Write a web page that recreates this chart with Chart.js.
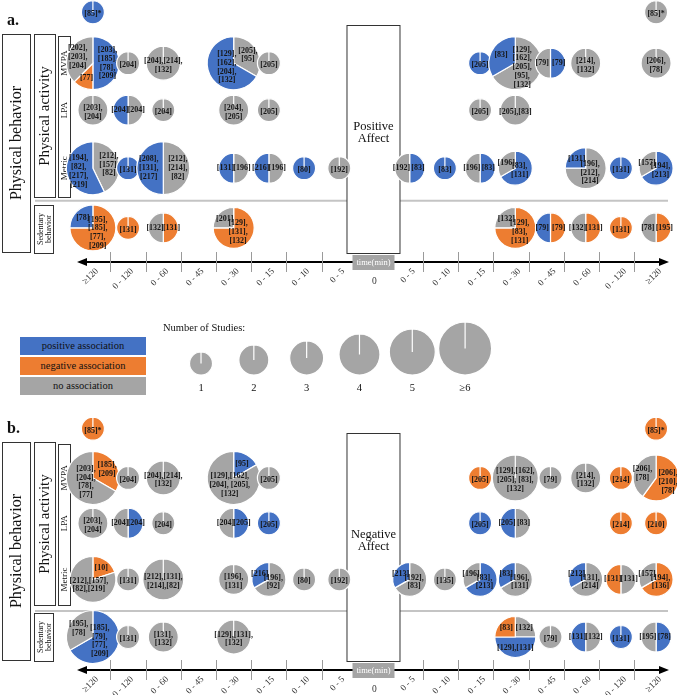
<!DOCTYPE html>
<html>
<head>
<meta charset="utf-8">
<script src="https://cdn.jsdelivr.net/npm/chart.js@4.4.1/dist/chart.umd.min.js"></script>
<style>
  body { margin: 0; background: #fff; font-family: 'Liberation Serif', serif; }
  #page { position: relative; width: 677px; height: 695px; overflow: hidden; }
  canvas { position: absolute; left: 0; }
  .assoc { position: absolute; left: 20px; width: 126px; height: 18px; line-height: 18px;
           text-align: center; font-size: 10.5px; color: #111; }
</style>
</head>
<body>
<div id="page">
  <canvas id="panelA" width="677" height="295" style="top:0"></canvas>
  <canvas id="sizeKey" width="360" height="82" style="top:318px;left:150px"></canvas>
  <canvas id="panelB" width="677" height="295" style="top:408px"></canvas>
  <div class="assoc" style="top:337px;background:#4472C4">positive association</div>
  <div class="assoc" style="top:357px;background:#ED7D31">negative association</div>
  <div class="assoc" style="top:377px;background:#A5A5A5">no association</div>
  <div style="position:absolute;left:163px;top:322px;font-size:10.5px;color:#111">Number of Studies:</div>
</div>
<script>
// time columns, -8 .. 8 (0 = the affect measurement)
const timeLabels = ['≥120', '0 - 120', '0 - 60', '0 - 45', '0 - 30', '0 - 15', '0 - 10', '0 - 5', '0',
                    '0 - 5', '0 - 10', '0 - 15', '0 - 30', '0 - 45', '0 - 60', '0 - 120', '≥120'];
const sizeLegend = ['1', '2', '3', '4', '5', '≥6'];

// pie: [time column, number of studies, slices clockwise from 12 o'clock]
// slice: [association, share, references]
const posTop = [
  [-8, 1, [['pos', 1, '[85]*']]],
  [8, 1, [['none', 1, '[85]*']]]
];
const posMVPA = [
  [-8, 8, [['pos', 4, '[203],\n[185],\n[78],\n[209]'], ['neg', 1, '[77]'], ['none', 3, '[202],\n[203],\n[204]']]],
  [-7, 1, [['none', 1, '[204]']]],
  [-6, 3, [['none', 1, '[204],[214],\n[132]']]],
  [-4, 6, [['none', 2, '[205],\n[95]'], ['pos', 4, '[129],\n[162],\n[204],\n[132]']]],
  [-3, 1, [['none', 1, '[205]']]],
  [3, 1, [['pos', 1, '[205]']]],
  [4, 6, [['none', 4, '[129],\n[162],\n[205],\n[95],\n[132]'], ['pos', 2, '[83]']]],
  [5, 2, [['pos', 1, '[79]'], ['none', 1, '[79]']]],
  [6, 2, [['none', 1, '[214],\n[132]']]],
  [8, 2, [['none', 1, '[206],\n[78]']]]
];
const posLPA = [
  [-8, 2, [['none', 1, '[203],\n[204]']]],
  [-7, 2, [['none', 1, '[204]'], ['pos', 1, '[204]']]],
  [-6, 1, [['none', 1, '[204]']]],
  [-4, 2, [['none', 1, '[204],\n[205]']]],
  [-3, 1, [['none', 1, '[205]']]],
  [3, 1, [['none', 1, '[205]']]],
  [4, 2, [['none', 1, '[205],[83]']]]
];
const posMetric = [
  [-8, 7, [['none', 3, '[212],\n[157],\n[82]'], ['pos', 4, '[194],\n[82],\n[217],\n[219]']]],
  [-7, 1, [['pos', 1, '[131]']]],
  [-6, 6, [['none', 3, '[212],\n[214],\n[82]'], ['pos', 3, '[208],\n[131],\n[217]']]],
  [-4, 2, [['none', 1, '[196]'], ['pos', 1, '[131]']]],
  [-3, 2, [['none', 1, '[196]'], ['pos', 1, '[216]']]],
  [-2, 1, [['pos', 1, '[80]']]],
  [-1, 1, [['none', 1, '[192]']]],
  [1, 2, [['pos', 1, '[83]'], ['none', 1, '[192]']]],
  [2, 1, [['pos', 1, '[83]']]],
  [3, 2, [['pos', 1, '[83]'], ['none', 1, '[196]']]],
  [4, 3, [['pos', 2, '[83],\n[131]'], ['none', 1, '[196]']]],
  [6, 4, [['none', 3, '[196],\n[212],\n[214]'], ['pos', 1, '[131]']]],
  [7, 1, [['pos', 1, '[131]']]],
  [8, 3, [['pos', 2, '[194],\n[213]'], ['none', 1, '[157]']]]
];
const posSedentary = [
  [-8, 5, [['neg', 3, '[195],\n[185],\n[77],\n[209]'], ['pos', 1, '[78]']]],
  [-7, 1, [['neg', 1, '[131]']]],
  [-6, 2, [['neg', 1, '[131]'], ['none', 1, '[132]']]],
  [-4, 4, [['neg', 3, '[129],\n[131],\n[132]'], ['none', 1, '[201]']]],
  [4, 4, [['neg', 3, '[129],\n[83],\n[131]'], ['none', 1, '[132]']]],
  [5, 2, [['neg', 1, '[79]'], ['pos', 1, '[79]']]],
  [6, 2, [['neg', 1, '[131]'], ['none', 1, '[132]']]],
  [7, 1, [['neg', 1, '[131]']]],
  [8, 2, [['neg', 1, '[195]'], ['none', 1, '[78]']]]
];

const negTop = [
  [-8, 1, [['neg', 1, '[85]*']]],
  [8, 1, [['neg', 1, '[85]*']]]
];
const negMVPA = [
  [-8, 6, [['neg', 2, '[185],\n[209]'], ['none', 4, '[203],\n[204],\n[78],\n[77]']]],
  [-7, 1, [['none', 1, '[204]']]],
  [-6, 3, [['none', 1, '[204],[214],\n[132]']]],
  [-4, 6, [['pos', 1, '[95]'], ['none', 5, '[129],[162],\n[204], [205],\n[132]']]],
  [-3, 1, [['none', 1, '[205]']]],
  [3, 1, [['neg', 1, '[205]']]],
  [4, 5, [['none', 1, '[129],[162],\n[205], [83],\n[132]']]],
  [5, 1, [['none', 1, '[79]']]],
  [6, 2, [['none', 1, '[214],\n[132]']]],
  [7, 1, [['neg', 1, '[214]']]],
  [8, 5, [['neg', 3, '[206],\n[210],\n[78]'], ['none', 2, '[206],\n[78]']]]
];
const negLPA = [
  [-8, 2, [['none', 1, '[203],\n[204]']]],
  [-7, 2, [['pos', 1, '[204]'], ['none', 1, '[204]']]],
  [-6, 1, [['none', 1, '[204]']]],
  [-4, 2, [['pos', 1, '[205]'], ['none', 1, '[204]']]],
  [-3, 1, [['pos', 1, '[205]']]],
  [3, 1, [['pos', 1, '[205]']]],
  [4, 2, [['none', 1, '[83]'], ['pos', 1, '[205]']]],
  [7, 1, [['neg', 1, '[214]']]],
  [8, 1, [['neg', 1, '[210]']]]
];
const negMetric = [
  [-8, 5, [['neg', 1, '[10]'], ['none', 4, '[212],[157],\n[82],[219]']]],
  [-7, 1, [['none', 1, '[131]']]],
  [-6, 4, [['none', 1, '[212],[131],\n[214],[82]']]],
  [-4, 2, [['none', 1, '[196],\n[131]']]],
  [-3, 3, [['none', 2, '[196],\n[92]'], ['pos', 1, '[216]']]],
  [-2, 1, [['none', 1, '[80]']]],
  [-1, 1, [['none', 1, '[192]']]],
  [1, 3, [['none', 2, '[192],\n[83]'], ['pos', 1, '[213]']]],
  [2, 1, [['none', 1, '[135]']]],
  [3, 3, [['pos', 2, '[83],\n[213]'], ['none', 1, '[196]']]],
  [4, 3, [['none', 2, '[196],\n[131]'], ['pos', 1, '[83]']]],
  [6, 3, [['none', 2, '[131],\n[214]'], ['pos', 1, '[212]']]],
  [7, 2, [['none', 1, '[131]'], ['neg', 1, '[131]']]],
  [8, 3, [['neg', 2, '[194],\n[136]'], ['none', 1, '[157]']]]
];
const negSedentary = [
  [-8, 6, [['pos', 4, '[185],\n[79],\n[77],\n[209]'], ['none', 2, '[195],\n[78]']]],
  [-7, 1, [['none', 1, '[131]']]],
  [-6, 2, [['none', 1, '[131],\n[132]']]],
  [-4, 3, [['none', 1, '[129],[131],\n[132]']]],
  [4, 4, [['none', 1, '[132]'], ['pos', 2, '[129],[131]'], ['neg', 1, '[83]']]],
  [5, 1, [['none', 1, '[79]']]],
  [6, 2, [['none', 1, '[132]'], ['pos', 1, '[131]']]],
  [7, 1, [['pos', 1, '[131]']]],
  [8, 2, [['pos', 1, '[78]'], ['none', 1, '[195]']]]
];

// layout
const colours = { pos: '#4472C4', neg: '#ED7D31', none: '#A5A5A5' };
const sizeRadius = [0, 11.5, 15, 17, 20.5, 23, 26.5];
const rowY = { top: 0, MVPA: 1, LPA: 1.92, Metric: 3.06, Sedentary: 4.23 };
const serif = '"Liberation Serif", serif';

function labelDist(frac) {
  if (frac > 0.99) return 0;
  if (frac > 0.6) return 0.3;
  if (frac >= 0.45) return 0.55;
  return 0.62;
}

function drawPie(ctx, cx, cy, r, slices, withText) {
  const total = slices.reduce((s, d) => s + d[1], 0);
  let a = -Math.PI / 2;
  const spans = [];
  ctx.save();
  ctx.strokeStyle = '#fff';
  ctx.lineWidth = 1.2;
  slices.forEach(d => {
    const a1 = a + d[1] / total * Math.PI * 2;
    ctx.beginPath();
    ctx.moveTo(cx, cy);
    ctx.arc(cx, cy, r, a, a1);
    ctx.closePath();
    ctx.fillStyle = colours[d[0]];
    ctx.fill();
    ctx.stroke();
    spans.push([a, a1, d[1] / total]);
    a = a1;
  });
  if (withText) {
    ctx.fillStyle = '#161616';
    ctx.font = 'bold 8px ' + serif;
    ctx.textAlign = 'center';
    ctx.textBaseline = 'middle';
    slices.forEach((d, i) => {
      const [a0, a1, frac] = spans[i];
      const mid = (a0 + a1) / 2;
      const dist = labelDist(frac) * r;
      const lx = cx + Math.cos(mid) * dist;
      const ly = cy + Math.sin(mid) * dist + (frac > 0.99 ? 2 : 0);
      const lines = d[2].split('\n');
      const lh = 8.8;
      lines.forEach((t, j) => ctx.fillText(t, lx, ly + (j - (lines.length - 1) / 2) * lh));
    });
  }
  ctx.restore();
}

const piePlugin = {
  id: 'pies',
  afterDatasetsDraw(chart) {
    const meta = chart.getDatasetMeta(0);
    const data = chart.data.datasets[0].data;
    meta.data.forEach((el, i) => drawPie(chart.ctx, el.x, el.y, data[i].r, data[i].slices, true));
  }
};

function rotText(ctx, text, x, y, size) {
  ctx.save();
  ctx.translate(x, y);
  ctx.rotate(-Math.PI / 2);
  ctx.font = size + 'px ' + serif;
  ctx.textAlign = 'center';
  ctx.textBaseline = 'middle';
  ctx.fillText(text, 0, 0);
  ctx.restore();
}

const framePlugin = {
  id: 'frame',
  beforeDatasetsDraw(chart, args, opts) {
    const { ctx, chartArea, scales } = chart;
    const xs = scales.x, ys = scales.y;
    const axisY = chartArea.bottom;
    ctx.save();
    ctx.fillStyle = '#111';
    ctx.font = 'bold 16px ' + serif;
    ctx.textAlign = 'left';
    ctx.textBaseline = 'alphabetic';
    ctx.fillText(opts.tag, 7, 25);

    // separator between physical activity and sedentary rows
    const sepY = ys.getPixelForValue(3.7);
    ctx.strokeStyle = '#C4C4C4';
    ctx.lineWidth = 2;
    ctx.beginPath();
    ctx.moveTo(35, sepY);
    ctx.lineTo(668, sepY);
    ctx.stroke();

    // category boxes on the left
    ctx.strokeStyle = '#333';
    ctx.lineWidth = 1;
    ctx.fillStyle = '#fff';
    [[2.5, 34.5, 28, 218], [34.5, 34.5, 21, 163], [58.5, 36.5, 12, 161], [34.5, 205.5, 19, 48]].forEach(b => {
      ctx.fillRect(b[0], b[1], b[2], b[3]);
      ctx.strokeRect(b[0], b[1], b[2], b[3]);
    });
    ctx.fillStyle = '#111';
    rotText(ctx, 'Physical behavior', 16.5, 143, 16);
    rotText(ctx, 'Physical activity', 45, 116, 15);
    rotText(ctx, 'MVPA', 64.5, ys.getPixelForValue(rowY.MVPA), 9);
    rotText(ctx, 'LPA', 64.5, ys.getPixelForValue(rowY.LPA), 9);
    rotText(ctx, 'Metric', 64.5, ys.getPixelForValue(rowY.Metric), 9);
    rotText(ctx, 'Sedentary', 40.5, 229, 8);
    rotText(ctx, 'behavior', 48.5, 229, 8);

    // affect box
    const bx = xs.getPixelForValue(0) - 1;
    ctx.fillStyle = '#fff';
    ctx.fillRect(bx - 26.5, 25.5, 53, 228);
    ctx.strokeRect(bx - 26.5, 25.5, 53, 228);
    ctx.fillStyle = '#111';
    ctx.font = '12.5px ' + serif;
    ctx.textAlign = 'center';
    ctx.textBaseline = 'middle';
    ctx.fillText(opts.affect[0], bx, 127);
    ctx.fillText(opts.affect[1], bx, 139);

    // time axis with arrows
    ctx.strokeStyle = '#000';
    ctx.fillStyle = '#000';
    ctx.lineWidth = 2;
    ctx.beginPath();
    ctx.moveTo(84, axisY);
    ctx.lineTo(662, axisY);
    ctx.stroke();
    ctx.beginPath();
    ctx.moveTo(77, axisY); ctx.lineTo(87, axisY - 4); ctx.lineTo(87, axisY + 4); ctx.closePath();
    ctx.fill();
    ctx.beginPath();
    ctx.moveTo(669, axisY); ctx.lineTo(659, axisY - 4); ctx.lineTo(659, axisY + 4); ctx.closePath();
    ctx.fill();
    ctx.strokeStyle = '#9A9A9A';
    ctx.lineWidth = 1;
    for (let k = 1.5; k <= 7.5; k++) {
      [-k, k - 0.12].forEach(v => {
        const px = Math.round(xs.getPixelForValue(v)) + 0.5;
        ctx.beginPath();
        ctx.moveTo(px, axisY - 10);
        ctx.lineTo(px, axisY + 10);
        ctx.stroke();
      });
    }
    ctx.fillStyle = '#A5A5A5';
    ctx.fillRect(bx - 21, axisY - 7, 42, 15);
    ctx.fillStyle = '#fff';
    ctx.font = '8.5px ' + serif;
    ctx.fillText('time(min)', bx, axisY + 0.5);
    ctx.fillStyle = '#333';
    ctx.font = '9.5px ' + serif;
    ctx.fillText(timeLabels[8], xs.getPixelForValue(0), axisY + 19);
    ctx.restore();
  }
};

function panelConfig(rows, affect, tag, yMin) {
  const points = [];
  Object.keys(rows).forEach(k => rows[k].forEach(p => points.push({
    x: p[0], y: rowY[k], r: sizeRadius[Math.min(p[1], 6)], slices: p[2]
  })));
  return {
    type: 'bubble',
    data: { datasets: [{ data: points, backgroundColor: 'rgba(0,0,0,0)', borderWidth: 0 }] },
    options: {
      responsive: false,
      animation: false,
      events: [],
      layout: { padding: 0, autoPadding: false },
      plugins: { legend: { display: false }, tooltip: { enabled: false }, frame: { affect, tag } },
      scales: {
        x: {
          type: 'linear', min: -10.639, max: 8.594,
          afterBuildTicks: axis => { axis.ticks = timeLabels.map((t, i) => ({ value: i - 8 })); },
          afterFit: axis => { axis.height = 33; },
          ticks: {
            autoSkip: false, minRotation: 45, maxRotation: 45, padding: 4, labelOffset: 4,
            color: '#333', font: { family: serif, size: 9 },
            callback: v => (v === 0 ? '' : timeLabels[v + 8])
          },
          grid: { display: false, drawTicks: false },
          border: { display: false }
        },
        y: { display: false, min: yMin, max: 4.9, reverse: true }
      }
    },
    plugins: [framePlugin, piePlugin]
  };
}

new Chart(document.getElementById('panelA'), panelConfig(
  { top: posTop, MVPA: posMVPA, LPA: posLPA, Metric: posMetric, Sedentary: posSedentary },
  ['Positive', 'Affect'], 'a.', -0.24));

new Chart(document.getElementById('panelB'), panelConfig(
  { top: negTop, MVPA: negMVPA, LPA: negLPA, Metric: negMetric, Sedentary: negSedentary },
  ['Negative', 'Affect'], 'b.', -0.42));

// number of studies key: grey pies sitting on a common baseline
new Chart(document.getElementById('sizeKey'), {
  type: 'bubble',
  data: { datasets: [{ data: sizeLegend.map((s, i) => ({ x: i + 1, y: 0, r: sizeRadius[i + 1] })),
                       backgroundColor: 'rgba(0,0,0,0)', borderWidth: 0 }] },
  options: {
    responsive: false, animation: false, events: [],
    layout: { padding: 0, autoPadding: false },
    plugins: { legend: { display: false }, tooltip: { enabled: false } },
    scales: {
      x: {
        type: 'linear', min: 0.034, max: 6.85,
        afterBuildTicks: axis => { axis.ticks = sizeLegend.map((s, i) => ({ value: i + 1 })); },
        afterFit: axis => { axis.height = 25; },
        ticks: { maxRotation: 0, padding: 7, color: '#111', font: { family: serif, size: 10.5 },
                 callback: v => sizeLegend[v - 1] },
        grid: { display: false, drawTicks: false },
        border: { display: false }
      },
      y: { display: false, min: 0, max: 1 }
    }
  },
  plugins: [{
    id: 'keyPies',
    afterDatasetsDraw(chart) {
      const meta = chart.getDatasetMeta(0);
      meta.data.forEach((el, i) => {
        const r = sizeRadius[i + 1];
        drawPie(chart.ctx, el.x, chart.chartArea.bottom - r, r, [['none', 1, '']], false);
      });
    }
  }]
});
</script>
</body>
</html>
